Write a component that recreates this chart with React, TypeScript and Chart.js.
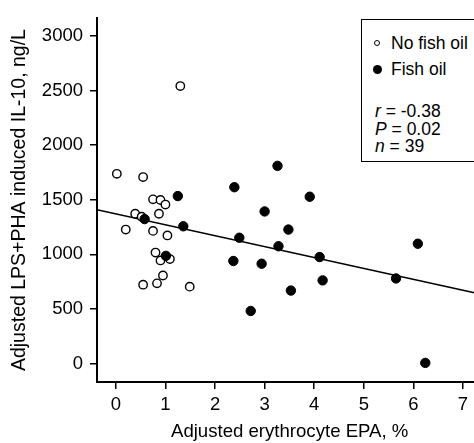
import { useEffect, useRef } from "react";
import { Chart, registerables } from "chart.js";

Chart.register(...registerables);

// Open circles: no fish oil
const noFishOilX = [0.02, 0.55, 0.75, 0.9, 1.0, 0.87, 0.39, 0.52, 0.2, 0.75, 1.04, 0.8, 0.9, 1.09, 0.95, 0.83, 0.55, 1.49, 1.3];
const noFishOilY = [1738, 1708, 1504, 1498, 1456, 1372, 1372, 1345, 1227, 1215, 1173, 1016, 944, 957, 806, 734, 722, 704, 2542];

// Filled circles: fish oil
const fishOilX = [0.58, 1.01, 1.25, 1.36, 3.26, 2.39, 3.91, 3.0, 3.48, 2.49, 3.28, 4.11, 2.37, 2.94, 4.17, 3.53, 2.72, 6.09, 5.65, 6.24];
const fishOilY = [1323, 986, 1534, 1257, 1811, 1615, 1528, 1393, 1227, 1152, 1074, 975, 939, 914, 761, 668, 481, 1097, 779, 5];

const xTicks = [0, 1, 2, 3, 4, 5, 6, 7];
const yTicks = [0, 500, 1000, 1500, 2000, 2500, 3000];
const xRange = [-0.38, 7.39];
const yRange = [-170, 3165];

// Regression line
const trendIntercept = 1370;
const trendSlope = -100;

const FONT_FAMILY = "'Liberation Sans', Arial, Helvetica, sans-serif";

export default function App() {
  const ref = useRef<HTMLCanvasElement | null>(null);

  useEffect(() => {
    if (!ref.current) return;
    const font = { family: FONT_FAMILY, size: 18.5 };
    const chart = new Chart(ref.current, {
      type: "scatter",
      data: {
        datasets: [
          {
            label: "Fish oil",
            data: fishOilX.map((x, i) => ({ x, y: fishOilY[i] })),
            pointRadius: 4.7,
            backgroundColor: "#000",
            borderColor: "#000",
            borderWidth: 1,
          },
          {
            label: "No fish oil",
            data: noFishOilX.map((x, i) => ({ x, y: noFishOilY[i] })),
            pointRadius: 4.2,
            backgroundColor: "#fff",
            borderColor: "#000",
            borderWidth: 1.4,
          },
          {
            label: "trend",
            data: xRange.map((x) => ({ x, y: trendIntercept + trendSlope * x })),
            showLine: true,
            borderColor: "#000",
            borderWidth: 1.5,
            pointRadius: 0,
            fill: false,
          } as any,
        ],
      },
      options: {
        responsive: false,
        animation: false,
        events: [],
        layout: { padding: { top: 13, left: 0, right: 0, bottom: 0 } },
        plugins: { legend: { display: false }, tooltip: { enabled: false } },
        scales: {
          x: {
            type: "linear",
            min: xRange[0],
            max: xRange[1],
            afterBuildTicks: (s: any) => {
              s.ticks = xTicks.map((v) => ({ value: v }));
            },
            afterFit: (s: any) => {
              s.height = 61;
            },
            grid: { drawOnChartArea: false, drawTicks: true, tickLength: 7, color: "#000", lineWidth: 1.5 },
            border: { display: true, color: "#000", width: 2 },
            ticks: {
              color: "#000",
              font,
              padding: 5,
              maxRotation: 0,
              autoSkip: false,
              callback: (v: any) => String(v),
            },
            title: {
              display: true,
              text: "Adjusted erythrocyte EPA, %",
              color: "#000",
              font: { family: FONT_FAMILY, size: 18.6 },
              padding: { top: 0, bottom: 0 },
            },
          },
          y: {
            type: "linear",
            min: yRange[0],
            max: yRange[1],
            afterBuildTicks: (s: any) => {
              s.ticks = yTicks.map((v) => ({ value: v }));
            },
            afterFit: (s: any) => {
              s.width = 97;
            },
            grid: { drawOnChartArea: false, drawTicks: true, tickLength: 7, color: "#000", lineWidth: 1.5 },
            border: { display: true, color: "#000", width: 2 },
            ticks: {
              color: "#000",
              font,
              padding: 7,
              autoSkip: false,
              callback: (v: any) => String(v),
            },
            title: {
              display: true,
              text: "Adjusted LPS+PHA induced IL-10, ng/L",
              color: "#000",
              font: { family: FONT_FAMILY, size: 19.5 },
              padding: { top: 8, bottom: 0 },
            },
          },
        },
      },
    });
    return () => chart.destroy();
  }, []);

  const textStyle: React.CSSProperties = {
    position: "absolute",
    fontFamily: FONT_FAMILY,
    fontSize: 17.5,
    lineHeight: "20px",
    color: "#000",
    whiteSpace: "nowrap",
  };

  return (
    <div
      style={{
        position: "absolute",
        left: 0,
        top: 0,
        width: 474,
        height: 443,
        overflow: "hidden",
        background: "#fff",
      }}
    >
      <canvas ref={ref} width={488} height={443} style={{ display: "block", width: 488, height: 443 }} />
      <div
        style={{
          position: "absolute",
          left: 361,
          top: 18.5,
          width: 140,
          height: 143,
          border: "1.5px solid #000",
          boxSizing: "border-box",
          background: "#fff",
        }}
      />
      <span
        style={{
          position: "absolute",
          left: 374,
          top: 40.3,
          width: 6,
          height: 6,
          borderRadius: "50%",
          border: "1px solid #000",
          boxSizing: "border-box",
        }}
      />
      <div style={{ ...textStyle, left: 391, top: 33.3 }}>No fish oil</div>
      <span
        style={{
          position: "absolute",
          left: 372.5,
          top: 64.5,
          width: 9,
          height: 9,
          borderRadius: "50%",
          background: "#000",
        }}
      />
      <div style={{ ...textStyle, left: 391, top: 59 }}>Fish oil</div>
      <div style={{ ...textStyle, left: 375, top: 101 }}>
        <i>r</i> = -0.38
      </div>
      <div style={{ ...textStyle, left: 375, top: 118.7 }}>
        <i>P</i> = 0.02
      </div>
      <div style={{ ...textStyle, left: 375, top: 136 }}>
        <i>n</i> = 39
      </div>
    </div>
  );
}
